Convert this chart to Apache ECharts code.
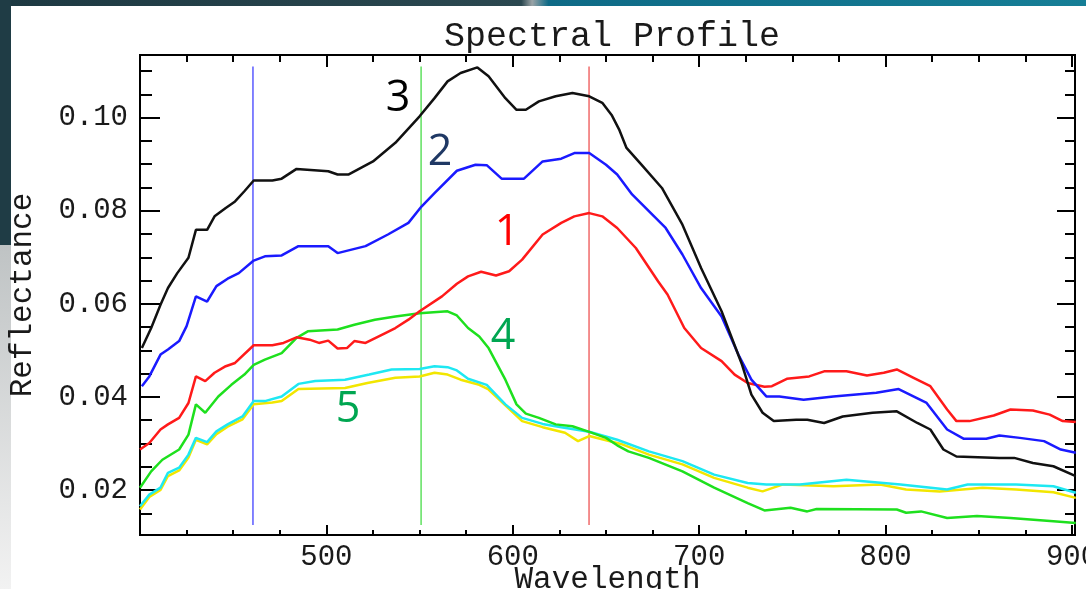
<!DOCTYPE html>
<html>
<head>
<meta charset="utf-8">
<title>Spectral Profile</title>
<script src="https://cdn.jsdelivr.net/npm/echarts@6/dist/echarts.min.js"></script>
<style>
    html, body { margin: 0; padding: 0; background: #fff; }
    #chart { width: 1086px; height: 589px; }
</style>
</head>
<body>
<div id="chart"></div>
<script>
// curve 1 (red)
const wl1 = [400,405,411,415,421,426,430,435,440,446,451,461,471,477,484,491,496,501,506,511,515,521,530,537,544,550,562,570,576,583,591,598,605,616,626,633,641,648,656,666,678,683,692,701,712,719,726,735,739,747,759,767,779,790,799,806,815,824,833,838,845,858,867,879,888,895,902];
const refl1 = [0.0287,0.0301,0.0330,0.0341,0.0355,0.0387,0.0444,0.0434,0.0452,0.0466,0.0473,0.0511,0.0511,0.0516,0.0528,0.0523,0.0516,0.0521,0.0504,0.0505,0.0520,0.0516,0.0534,0.0548,0.0566,0.0584,0.0616,0.0643,0.0659,0.0669,0.0661,0.0670,0.0695,0.0749,0.0774,0.0788,0.0795,0.0788,0.0763,0.0720,0.0648,0.0620,0.0548,0.0505,0.0477,0.0448,0.0430,0.0422,0.0423,0.0439,0.0444,0.0455,0.0455,0.0446,0.0452,0.0459,0.0441,0.0423,0.0373,0.0348,0.0348,0.0360,0.0373,0.0371,0.0362,0.0348,0.0346];

// curve 2 (blue)
const wl2 = [401,405,411,415,421,425,430,436,441,447,453,461,467,476,485,501,506,521,533,544,551,558,570,580,586,594,606,616,626,633,641,650,656,664,682,691,701,712,721,728,736,743,756,772,795,807,822,833,842,854,861,872,885,894,902];
const refl2 = [0.0423,0.0444,0.0491,0.0502,0.0520,0.0552,0.0616,0.0605,0.0638,0.0654,0.0666,0.0693,0.0702,0.0704,0.0724,0.0724,0.0709,0.0724,0.0749,0.0774,0.0809,0.0838,0.0886,0.0899,0.0898,0.0869,0.0869,0.0906,0.0912,0.0924,0.0924,0.0899,0.0878,0.0835,0.0763,0.0706,0.0634,0.0573,0.0491,0.0437,0.0401,0.0401,0.0394,0.0401,0.0409,0.0417,0.0387,0.0330,0.0310,0.0310,0.0317,0.0312,0.0305,0.0287,0.0280];

// curve 3 (black)
const wl3 = [401,406,411,415,420,426,430,436,440,446,451,456,461,471,476,484,501,506,512,525,537,550,558,565,572,581,587,596,602,607,614,623,632,641,648,653,657,661,669,680,691,701,712,723,728,734,740,752,758,767,777,793,806,817,824,831,838,861,869,879,890,902];
const refl3 = [0.0505,0.0548,0.0598,0.0634,0.0666,0.0699,0.0759,0.0759,0.0788,0.0806,0.0820,0.0842,0.0865,0.0865,0.0869,0.0890,0.0885,0.0878,0.0878,0.0906,0.0946,0.1003,0.1042,0.1078,0.1096,0.1108,0.1089,0.1042,0.1017,0.1017,0.1035,0.1046,0.1053,0.1046,0.1032,0.1006,0.0975,0.0935,0.0899,0.0849,0.0770,0.0677,0.0584,0.0469,0.0405,0.0366,0.0348,0.0351,0.0351,0.0344,0.0358,0.0366,0.0369,0.0344,0.0330,0.0287,0.0272,0.0269,0.0269,0.0258,0.0251,0.0230];

// curve 4 (green)
const wl4 = [400,406,412,421,426,430,435,442,449,456,461,467,476,484,490,506,515,526,537,550,565,570,576,582,587,596,602,607,614,623,632,641,650,656,662,673,691,708,726,735,749,758,763,806,811,819,833,849,867,890,902];
const refl4 = [0.0205,0.0240,0.0265,0.0287,0.0319,0.0384,0.0366,0.0401,0.0426,0.0448,0.0469,0.0480,0.0494,0.0527,0.0541,0.0545,0.0555,0.0566,0.0573,0.0580,0.0584,0.0575,0.0548,0.0530,0.0505,0.0437,0.0384,0.0364,0.0355,0.0341,0.0337,0.0325,0.0312,0.0296,0.0283,0.0269,0.0240,0.0205,0.0172,0.0156,0.0162,0.0154,0.0159,0.0158,0.0151,0.0154,0.0140,0.0144,0.0140,0.0133,0.0129];

// curve 5 (cyan)
const wl5a = [400,405,411,415,421,426,430,436,441,447,455,461,467,476,485,494,510,523,535,550,558,565,570,576,586,596,605,616,626,641,656,673,691,708,726,736,754,779,808,833,844,870,890,902];
const refl5a = [0.0165,0.0190,0.0205,0.0237,0.0248,0.0276,0.0312,0.0303,0.0326,0.0341,0.0358,0.0391,0.0391,0.0401,0.0428,0.0434,0.0437,0.0448,0.0459,0.0460,0.0466,0.0464,0.0457,0.0439,0.0426,0.0384,0.0355,0.0342,0.0335,0.0325,0.0308,0.0283,0.0262,0.0233,0.0215,0.0212,0.0212,0.0222,0.0212,0.0201,0.0212,0.0212,0.0208,0.0194];

// curve 5 (yellow)
const wl5b = [400,405,411,415,421,426,430,436,441,447,455,461,471,476,485,510,522,537,550,558,565,572,582,587,605,616,628,635,641,658,673,691,708,726,734,745,772,797,811,829,852,870,890,902];
const refl5b = [0.0158,0.0185,0.0200,0.0230,0.0242,0.0270,0.0308,0.0298,0.0320,0.0336,0.0352,0.0384,0.0388,0.0391,0.0417,0.0419,0.0430,0.0441,0.0444,0.0452,0.0448,0.0437,0.0426,0.0416,0.0348,0.0335,0.0323,0.0305,0.0316,0.0299,0.0276,0.0255,0.0226,0.0205,0.0197,0.0212,0.0208,0.0212,0.0201,0.0197,0.0205,0.0201,0.0195,0.0183];

// band cursor lines (blue / green / red)
const cursorWl = [460.6, 550.8, 640.9];
const cursorSpan = [0.0125, 0.111];

// axis ticks
const xMajor = [500, 600, 700, 800, 900];
const xMinor = [425, 450, 475, 525, 550, 575, 625, 650, 675, 725, 750, 775, 825, 850, 875];
const yMajor = [0.02, 0.04, 0.06, 0.08, 0.10];
const yMinor = [0.015, 0.025, 0.03, 0.035, 0.045, 0.05, 0.055, 0.065, 0.07, 0.075, 0.085, 0.09, 0.095, 0.105, 0.11];

const mono = '"Liberation Mono", "DejaVu Sans Mono", monospace';
const X_MIN = 400, X_MAX = 901.6;
const Y_MIN = 0.01033, Y_MAX = 0.11347;

function pairs(xs, ys) {
    return xs.map((x, i) => [x, ys[i]]);
}

function xAxisDef(position, ticks, len, withLabels) {
    return {
        type: 'value', min: X_MIN, max: X_MAX, position: position,
        axisLine: { show: withLabels, lineStyle: { color: '#000', width: 2 } },
        axisTick: { show: true, inside: true, length: len, customValues: ticks, lineStyle: { color: '#000', width: 2 } },
        axisLabel: withLabels
            ? { show: true, customValues: ticks, margin: 8, fontFamily: mono, fontSize: 29, color: '#1a1a1a' }
            : { show: false },
        splitLine: { show: false },
        name: withLabels ? 'Wavelength' : '',
        nameLocation: 'middle',
        nameGap: 29,
        nameMoveOverlap: false,
        nameTextStyle: { fontFamily: mono, fontSize: 31, color: '#1a1a1a' }
    };
}

function yAxisDef(position, ticks, len, withLabels) {
    return {
        type: 'value', min: Y_MIN, max: Y_MAX, position: position,
        axisLine: { show: withLabels, lineStyle: { color: '#000', width: 2 } },
        axisTick: { show: true, inside: true, length: len, customValues: ticks, lineStyle: { color: '#000', width: 2 } },
        axisLabel: withLabels
            ? { show: true, customValues: ticks, margin: 12, fontFamily: mono, fontSize: 29, color: '#1a1a1a',
                formatter: v => v.toFixed(2) }
            : { show: false },
        splitLine: { show: false },
        name: withLabels ? 'Reflectance' : '',
        nameLocation: 'middle',
        nameGap: 102,
        nameMoveOverlap: false,
        nameTextStyle: { fontFamily: mono, fontSize: 31, color: '#1a1a1a' }
    };
}

function curve(name, xs, ys, color) {
    return {
        name: name, type: 'line', data: pairs(xs, ys),
        showSymbol: false, symbol: 'none', smooth: false,
        lineStyle: { color: color, width: 2.5 }, silent: true
    };
}

const cursorColors = ['#5a5aff', '#5fe05f', '#f06a6a'];
const cursorSeries = cursorWl.map((w, i) => ({
    type: 'line', symbol: 'none', silent: true,
    data: [[w, cursorSpan[0]], [w, cursorSpan[1]]],
    lineStyle: { color: cursorColors[i], width: 1.5 }
}));

const myChart = echarts.init(document.getElementById('chart'));

const option = {
    animation: false,
    backgroundColor: '#fff',
    title: {
        text: 'Spectral Profile',
        left: 607, top: 14, textAlign: 'center',
        textStyle: { fontFamily: mono, fontSize: 35, fontWeight: 'normal', color: '#1a1a1a' }
    },
    grid: {
        left: 140, top: 55, right: 11, bottom: 54,
        outerBoundsMode: 'none',
        show: true, borderColor: '#000', borderWidth: 2, backgroundColor: 'transparent'
    },
    xAxis: [
        xAxisDef('bottom', xMajor, 10, true),
        xAxisDef('bottom', xMinor, 5, false),
        xAxisDef('top', xMajor, 12, false),
        xAxisDef('top', xMinor, 7, false)
    ],
    yAxis: [
        yAxisDef('left', yMajor, 20, true),
        yAxisDef('left', yMinor, 12, false),
        yAxisDef('right', yMajor, 18, false),
        yAxisDef('right', yMinor, 10, false)
    ],
    series: [
        ...cursorSeries,
        curve('5b', wl5b, refl5b, '#f2e600'),
        curve('5a', wl5a, refl5a, '#1ee8f2'),
        curve('4', wl4, refl4, '#1ee01e'),
        curve('1', wl1, refl1, '#ff1a1a'),
        curve('2', wl2, refl2, '#1a1aff'),
        curve('3', wl3, refl3, '#111111')
    ],
    graphic: [
        // slide background strips
        { type: 'rect', shape: { x: 0, y: 0, width: 1086, height: 6 },
          style: { fill: new echarts.graphic.LinearGradient(0, 0, 1, 0, [
              { offset: 0, color: '#1d3942' }, { offset: 0.48, color: '#2b4850' },
              { offset: 0.49, color: '#9aa3a6' }, { offset: 0.505, color: '#0e6a86' },
              { offset: 1, color: '#167e96' }]) } },
        { type: 'rect', shape: { x: 0, y: 0, width: 11, height: 245 }, style: { fill: '#1f3c45' } },
        { type: 'rect', shape: { x: 0, y: 245, width: 11, height: 344 },
          style: { fill: new echarts.graphic.LinearGradient(0, 0, 0, 1, [
              { offset: 0, color: '#bfc3c4' }, { offset: 1, color: '#f2f2f2' }]) } },
        // curve numbers
        { type: 'text', x: 398, y: 99, style: { text: '3', fill: '#000', font: '43px "Open Sans"', align: 'center', verticalAlign: 'middle' } },
        { type: 'text', x: 440, y: 153, style: { text: '2', fill: '#1f3864', font: '43px "Open Sans"', align: 'center', verticalAlign: 'middle' } },
        { type: 'text', x: 507, y: 233, style: { text: '1', fill: '#ff0000', font: '43px "Open Sans"', align: 'center', verticalAlign: 'middle' } },
        { type: 'text', x: 503, y: 337, style: { text: '4', fill: '#00a651', font: '43px "Open Sans"', align: 'center', verticalAlign: 'middle' } },
        { type: 'text', x: 348, y: 410, style: { text: '5', fill: '#00a651', font: '43px "Open Sans"', align: 'center', verticalAlign: 'middle' } }
    ]
};

myChart.setOption(option);
</script>
</body>
</html>
